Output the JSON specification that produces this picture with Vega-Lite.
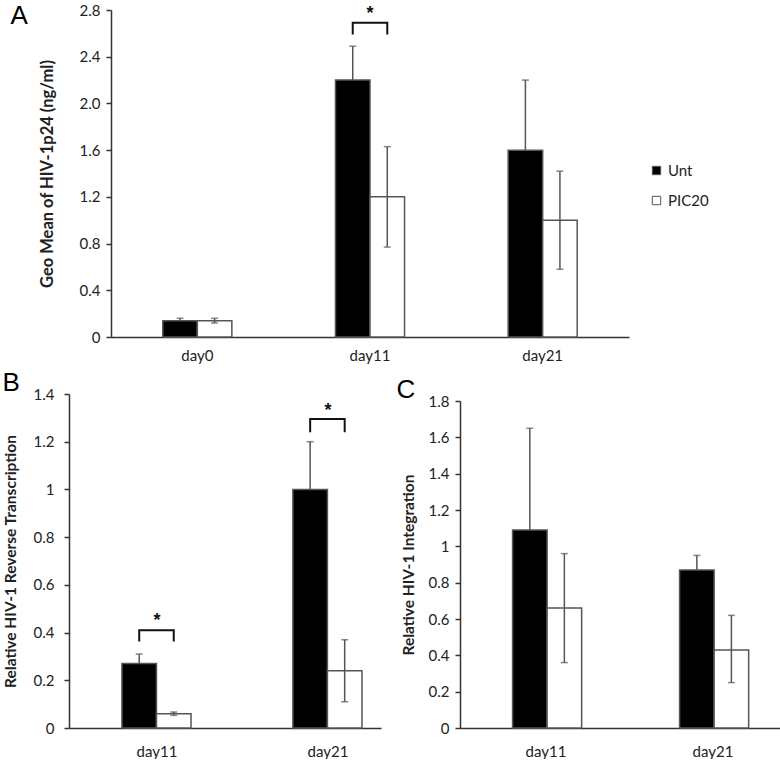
{
  "$schema": "https://vega.github.io/schema/vega-lite/v6.json",
  "padding": {"top": 2, "left": 2, "right": 0, "bottom": 0},
  "background": "white",
  "bounds": "flush",
  "spacing": 57,
  "config": {
    "view": {"stroke": null},
    "font": "Lato",
    "axis": {
      "domainColor": "#333", "domainWidth": 1.5, "tickColor": "#333", "tickWidth": 1.5, "tickSize": 5,
      "labelFont": "Lato", "labelFontSize": 15, "labelColor": "#222", "labelPadding": 6, "labelOverlap": false,
      "titleFont": "Lato", "titleFontWeight": "bold", "titleColor": "#222", "titleFontSize": 15.5, "grid": false
    },
    "axisX": {
      "titleFont": "Liberation Sans", "titleFontSize": 26, "titleFontWeight": "normal", "titleColor": "#000",
      "titleAngle": 0, "titleAlign": "left", "titleBaseline": "alphabetic"
    }
  },
  "datasets": {
    "bars": [
      {"panel": "A", "day": "day0", "group": "Unt", "value": 0.14, "lo": 0.14, "hi": 0.16},
      {"panel": "A", "day": "day0", "group": "PIC20", "value": 0.14, "lo": 0.12, "hi": 0.16},
      {"panel": "A", "day": "day11", "group": "Unt", "value": 2.2, "lo": 2.2, "hi": 2.49},
      {"panel": "A", "day": "day11", "group": "PIC20", "value": 1.2, "lo": 0.77, "hi": 1.63},
      {"panel": "A", "day": "day21", "group": "Unt", "value": 1.6, "lo": 1.6, "hi": 2.2},
      {"panel": "A", "day": "day21", "group": "PIC20", "value": 1.0, "lo": 0.58, "hi": 1.42},
      {"panel": "B", "day": "day11", "group": "Unt", "value": 0.27, "lo": 0.27, "hi": 0.31},
      {"panel": "B", "day": "day11", "group": "PIC20", "value": 0.06, "lo": 0.053, "hi": 0.067},
      {"panel": "B", "day": "day21", "group": "Unt", "value": 1.0, "lo": 1.0, "hi": 1.2},
      {"panel": "B", "day": "day21", "group": "PIC20", "value": 0.24, "lo": 0.11, "hi": 0.37},
      {"panel": "C", "day": "day11", "group": "Unt", "value": 1.09, "lo": 1.09, "hi": 1.65},
      {"panel": "C", "day": "day11", "group": "PIC20", "value": 0.66, "lo": 0.36, "hi": 0.96},
      {"panel": "C", "day": "day21", "group": "Unt", "value": 0.87, "lo": 0.87, "hi": 0.95},
      {"panel": "C", "day": "day21", "group": "PIC20", "value": 0.43, "lo": 0.25, "hi": 0.62}
    ],
    "brackets": [
      {"panel": "A", "day": "day11", "group": "Unt", "y": 2.59, "ord": 1},
      {"panel": "A", "day": "day11", "group": "Unt", "y": 2.69, "ord": 2},
      {"panel": "A", "day": "day11", "group": "PIC20", "y": 2.69, "ord": 3},
      {"panel": "A", "day": "day11", "group": "PIC20", "y": 2.59, "ord": 4},
      {"panel": "B", "day": "day11", "group": "Unt", "y": 0.363, "ord": 1},
      {"panel": "B", "day": "day11", "group": "Unt", "y": 0.41, "ord": 2},
      {"panel": "B", "day": "day11", "group": "PIC20", "y": 0.41, "ord": 3},
      {"panel": "B", "day": "day11", "group": "PIC20", "y": 0.363, "ord": 4},
      {"panel": "B", "day": "day21", "group": "Unt", "y": 1.24, "ord": 1},
      {"panel": "B", "day": "day21", "group": "Unt", "y": 1.295, "ord": 2},
      {"panel": "B", "day": "day21", "group": "PIC20", "y": 1.295, "ord": 3},
      {"panel": "B", "day": "day21", "group": "PIC20", "y": 1.24, "ord": 4}
    ],
    "stars": [
      {"panel": "A", "day": "day11", "label": "*", "y": 2.8},
      {"panel": "B", "day": "day11", "label": "*", "y": 0.467},
      {"panel": "B", "day": "day21", "label": "*", "y": 1.344}
    ]
  },
  "vconcat": [
    {
      "width": 560, "height": 327,
      "layer": [
        {
          "data": {"name": "bars"},
          "transform": [{"filter": "datum.panel === 'A'"}],
          "mark": {"type": "bar", "stroke": "#555", "strokeWidth": 1.5},
          "encoding": {
            "x": {"field": "day", "type": "nominal", "sort": ["day0", "day11", "day21"], "scale": {"range": [42, 560], "paddingInner": 0.6, "paddingOuter": 0.3}, "axis": {"title": "A", "titleX": -59, "titleY": -314, "ticks": false, "labelAngle": 0, "labelPadding": 11}},
            "xOffset": {"field": "group", "type": "nominal", "sort": ["Unt", "PIC20"], "scale": {"domain": ["Unt", "PIC20"]}},
            "y": {"field": "value", "type": "quantitative", "scale": {"domain": [0, 2.8], "nice": false}, "axis": {"title": "Geo Mean of HIV-1p24 (ng/ml)", "titleFontSize": 16.5, "offset": -42, "values": [0, 0.4, 0.8, 1.2, 1.6, 2.0, 2.4, 2.8], "tickCount": 20, "labelExpr": "datum.value == 0 ? '0' : format(datum.value, '.1f')", "titlePadding": 24}},
            "fill": {"field": "group", "type": "nominal", "scale": {"domain": ["Unt", "PIC20"], "range": ["#000000", "#ffffff"]}, "legend": {"title": null, "orient": "none", "legendX": 580, "legendY": 153, "symbolType": "square", "symbolSize": 70, "symbolStrokeColor": "#555", "symbolStrokeWidth": 1, "labelFontSize": 15, "labelFont": "Lato", "labelColor": "#222", "rowPadding": 14, "labelOffset": 4}}
          }
        },
        {
          "data": {"name": "bars"},
          "transform": [{"filter": "datum.panel === 'A'"}],
          "mark": {"type": "rule", "color": "#555", "strokeWidth": 1.5},
          "encoding": {
            "x": {"field": "day", "type": "nominal", "sort": ["day0", "day11", "day21"]},
            "xOffset": {"field": "group", "type": "nominal", "sort": ["Unt", "PIC20"]},
            "y": {"field": "lo", "type": "quantitative"},
            "y2": {"field": "hi"}
          }
        },
        {
          "data": {"name": "bars"},
          "transform": [{"filter": "datum.panel === 'A'"}],
          "mark": {"type": "tick", "color": "#555", "thickness": 1.5, "size": 7, "orient": "horizontal"},
          "encoding": {
            "x": {"field": "day", "type": "nominal", "sort": ["day0", "day11", "day21"]},
            "xOffset": {"field": "group", "type": "nominal", "sort": ["Unt", "PIC20"]},
            "y": {"field": "hi", "type": "quantitative"}
          }
        },
        {
          "data": {"name": "bars"},
          "transform": [{"filter": "datum.panel === 'A' && datum.group === 'PIC20'"}],
          "mark": {"type": "tick", "color": "#555", "thickness": 1.5, "size": 7, "orient": "horizontal"},
          "encoding": {
            "x": {"field": "day", "type": "nominal", "sort": ["day0", "day11", "day21"]},
            "xOffset": {"field": "group", "type": "nominal", "sort": ["Unt", "PIC20"]},
            "y": {"field": "lo", "type": "quantitative"}
          }
        },
        {
          "data": {"name": "brackets"},
          "transform": [{"filter": "datum.panel === 'A'"}],
          "mark": {"type": "line", "color": "#111", "strokeWidth": 2},
          "encoding": {
            "x": {"field": "day", "type": "nominal", "sort": ["day0", "day11", "day21"]},
            "xOffset": {"field": "group", "type": "nominal", "sort": ["Unt", "PIC20"]},
            "y": {"field": "y", "type": "quantitative"},
            "order": {"field": "ord", "type": "quantitative"},
            "detail": {"field": "day"}
          }
        },
        {
          "data": {"name": "stars"},
          "transform": [{"filter": "datum.panel === 'A'"}],
          "mark": {"type": "text", "font": "Liberation Sans", "fontSize": 18, "fontWeight": "bold", "baseline": "middle", "color": "#111", "dy": 4},
          "encoding": {
            "x": {"field": "day", "type": "nominal", "sort": ["day0", "day11", "day21"]},
            "y": {"field": "y", "type": "quantitative"},
            "text": {"field": "label"}
          }
        }
      ]
    },
    {
      "bounds": "flush",
      "spacing": 79,
      "hconcat": [
        {
          "width": 312, "height": 334,
          "layer": [
            {
              "data": {"name": "bars"},
              "transform": [{"filter": "datum.panel === 'B'"}],
              "mark": {"type": "bar", "stroke": "#555", "strokeWidth": 1.5},
              "encoding": {
                "x": {"field": "day", "type": "nominal", "sort": ["day11", "day21"], "scale": {"paddingInner": 0.59, "paddingOuter": 0.2076, "align": 0.746}, "axis": {"title": "B", "titleX": -67, "titleY": -338, "ticks": false, "labelAngle": 0, "labelPadding": 16}},
                "xOffset": {"field": "group", "type": "nominal", "sort": ["Unt", "PIC20"], "scale": {"domain": ["Unt", "PIC20"]}},
                "y": {"field": "value", "type": "quantitative", "scale": {"domain": [0, 1.4], "nice": false}, "axis": {"title": "Relative HIV-1 Reverse Transcription", "values": [0, 0.2, 0.4, 0.6, 0.8, 1, 1.2, 1.4], "tickCount": 20, "format": ".1~f", "labelPadding": 10, "titlePadding": 15}},
                "fill": {"field": "group", "type": "nominal", "scale": {"domain": ["Unt", "PIC20"], "range": ["#000000", "#ffffff"]}, "legend": null}
              }
            },
            {
              "data": {"name": "bars"},
              "transform": [{"filter": "datum.panel === 'B'"}],
              "mark": {"type": "rule", "color": "#555", "strokeWidth": 1.5},
              "encoding": {
                "x": {"field": "day", "type": "nominal", "sort": ["day11", "day21"]},
                "xOffset": {"field": "group", "type": "nominal", "sort": ["Unt", "PIC20"]},
                "y": {"field": "lo", "type": "quantitative"},
                "y2": {"field": "hi"}
              }
            },
            {
              "data": {"name": "bars"},
              "transform": [{"filter": "datum.panel === 'B'"}],
              "mark": {"type": "tick", "color": "#555", "thickness": 1.5, "size": 7, "orient": "horizontal"},
              "encoding": {
                "x": {"field": "day", "type": "nominal", "sort": ["day11", "day21"]},
                "xOffset": {"field": "group", "type": "nominal", "sort": ["Unt", "PIC20"]},
                "y": {"field": "hi", "type": "quantitative"}
              }
            },
            {
              "data": {"name": "bars"},
              "transform": [{"filter": "datum.panel === 'B' && datum.group === 'PIC20'"}],
              "mark": {"type": "tick", "color": "#555", "thickness": 1.5, "size": 7, "orient": "horizontal"},
              "encoding": {
                "x": {"field": "day", "type": "nominal", "sort": ["day11", "day21"]},
                "xOffset": {"field": "group", "type": "nominal", "sort": ["Unt", "PIC20"]},
                "y": {"field": "lo", "type": "quantitative"}
              }
            },
            {
              "data": {"name": "brackets"},
              "transform": [{"filter": "datum.panel === 'B'"}],
              "mark": {"type": "line", "color": "#111", "strokeWidth": 2},
              "encoding": {
                "x": {"field": "day", "type": "nominal", "sort": ["day11", "day21"]},
                "xOffset": {"field": "group", "type": "nominal", "sort": ["Unt", "PIC20"]},
                "y": {"field": "y", "type": "quantitative"},
                "order": {"field": "ord", "type": "quantitative"},
                "detail": {"field": "day"}
              }
            },
            {
              "data": {"name": "stars"},
              "transform": [{"filter": "datum.panel === 'B'"}],
              "mark": {"type": "text", "font": "Liberation Sans", "fontSize": 18, "fontWeight": "bold", "baseline": "middle", "color": "#111", "dy": 4},
              "encoding": {
                "x": {"field": "day", "type": "nominal", "sort": ["day11", "day21"]},
                "y": {"field": "y", "type": "quantitative"},
                "text": {"field": "label"}
              }
            }
          ]
        },
        {
          "width": 320, "height": 334,
          "layer": [
            {
              "data": {"name": "bars"},
              "transform": [{"filter": "datum.panel === 'C'"}],
              "mark": {"type": "bar", "stroke": "#555", "strokeWidth": 1.5},
              "encoding": {
                "x": {"field": "day", "type": "nominal", "sort": ["day11", "day21"], "scale": {"paddingInner": 0.6, "paddingOuter": 0.258, "align": 0.61}, "axis": {"title": "C", "titleX": -64, "titleY": -331, "ticks": false, "labelAngle": 0, "labelPadding": 16}},
                "xOffset": {"field": "group", "type": "nominal", "sort": ["Unt", "PIC20"], "scale": {"domain": ["Unt", "PIC20"]}},
                "y": {"field": "value", "type": "quantitative", "scale": {"domain": [0, 1.8], "nice": false, "range": [334, 7]}, "axis": {"title": "Relative HIV-1 Integration", "values": [0, 0.2, 0.4, 0.6, 0.8, 1, 1.2, 1.4, 1.6, 1.8], "tickCount": 20, "format": ".1~f", "labelOverlap": false, "titlePadding": 12}},
                "fill": {"field": "group", "type": "nominal", "scale": {"domain": ["Unt", "PIC20"], "range": ["#000000", "#ffffff"]}, "legend": null}
              }
            },
            {
              "data": {"name": "bars"},
              "transform": [{"filter": "datum.panel === 'C'"}],
              "mark": {"type": "rule", "color": "#555", "strokeWidth": 1.5},
              "encoding": {
                "x": {"field": "day", "type": "nominal", "sort": ["day11", "day21"]},
                "xOffset": {"field": "group", "type": "nominal", "sort": ["Unt", "PIC20"]},
                "y": {"field": "lo", "type": "quantitative"},
                "y2": {"field": "hi"}
              }
            },
            {
              "data": {"name": "bars"},
              "transform": [{"filter": "datum.panel === 'C'"}],
              "mark": {"type": "tick", "color": "#555", "thickness": 1.5, "size": 7, "orient": "horizontal"},
              "encoding": {
                "x": {"field": "day", "type": "nominal", "sort": ["day11", "day21"]},
                "xOffset": {"field": "group", "type": "nominal", "sort": ["Unt", "PIC20"]},
                "y": {"field": "hi", "type": "quantitative"}
              }
            },
            {
              "data": {"name": "bars"},
              "transform": [{"filter": "datum.panel === 'C' && datum.group === 'PIC20'"}],
              "mark": {"type": "tick", "color": "#555", "thickness": 1.5, "size": 7, "orient": "horizontal"},
              "encoding": {
                "x": {"field": "day", "type": "nominal", "sort": ["day11", "day21"]},
                "xOffset": {"field": "group", "type": "nominal", "sort": ["Unt", "PIC20"]},
                "y": {"field": "lo", "type": "quantitative"}
              }
            }
          ]
        }
      ]
    }
  ]
}
